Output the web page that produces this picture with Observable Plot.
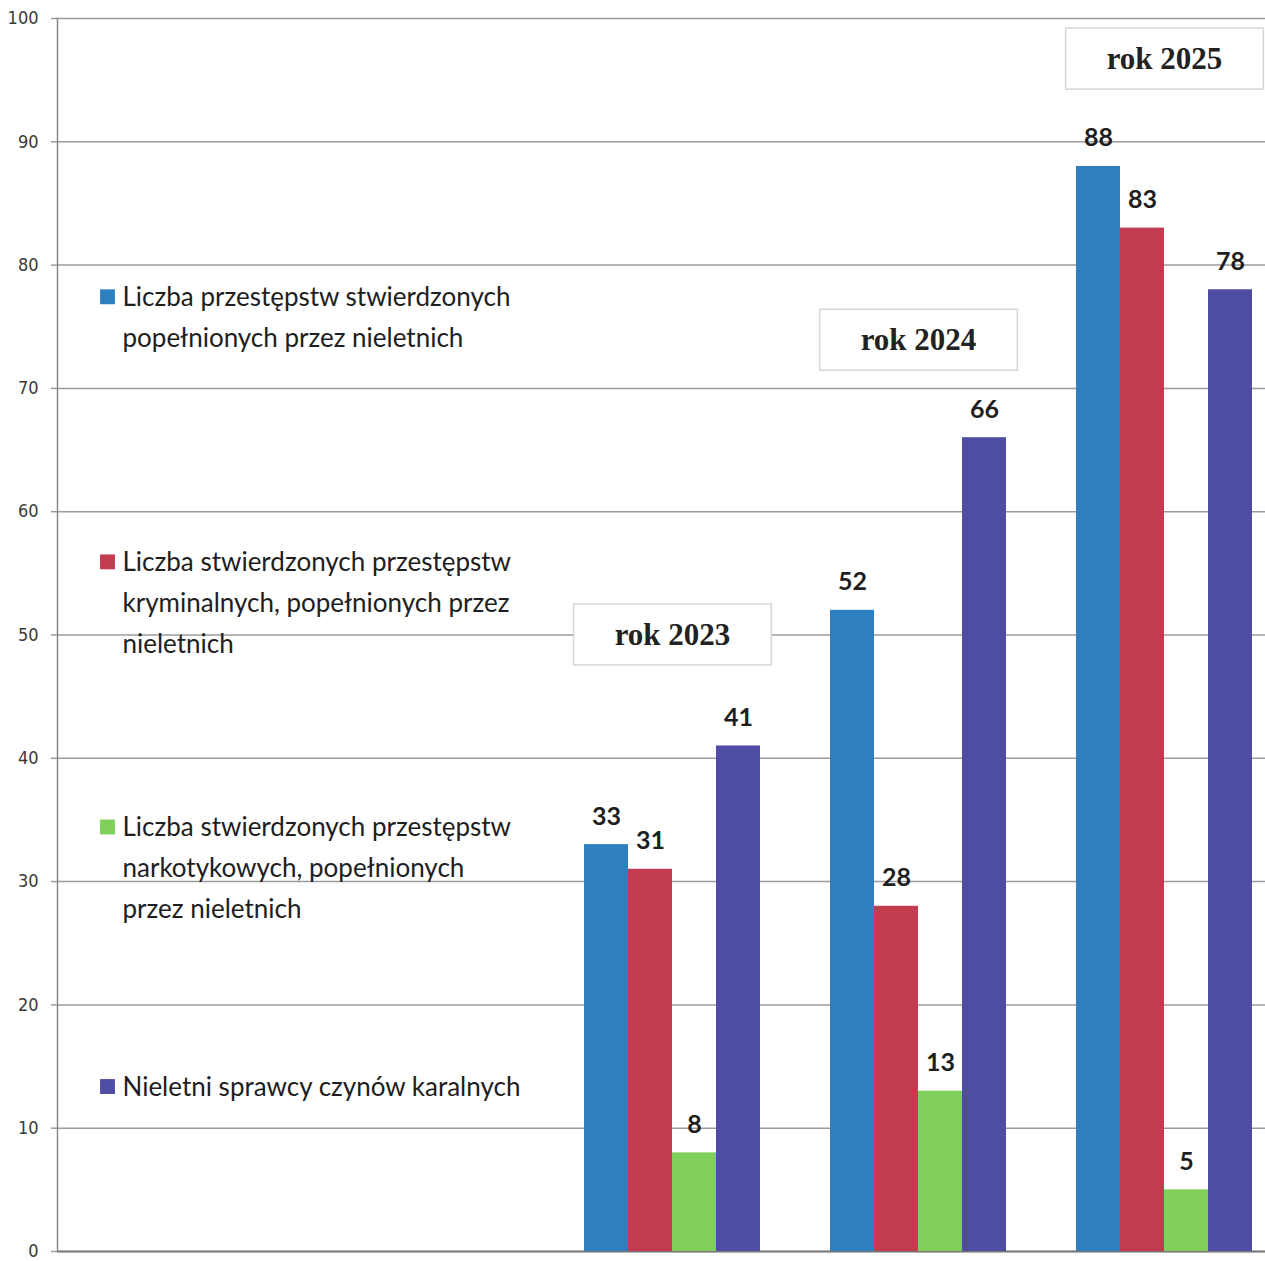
<!DOCTYPE html>
<html><head><meta charset="utf-8">
<script src="https://cdn.jsdelivr.net/npm/d3@7"></script>
<script src="https://cdn.jsdelivr.net/npm/@observablehq/plot@0.6"></script>
<style>
html,body{margin:0;padding:0;background:#fff;overflow:hidden;}
#wrap{width:1265px;height:1261px;overflow:hidden;position:relative;background:#fff;}
</style></head><body><div id="wrap"></div>
<script>
// ---- data ----
const years = ["2023", "2024", "2025"];
const emptySlots = ["pusty1", "pusty2"];
const seriesKeys = ["s1", "s2", "s3", "s4"];
const seriesColors = ["#2d7fc0", "#c23b4e", "#7fcf5a", "#4e4ca3"];
const values2023 = [33, 31, 8, 41];
const values2024 = [52, 28, 13, 66];
const values2025 = [88, 83, 5, 78];
const legendLabels = [
  "Liczba przestępstw stwierdzonych\npopełnionych przez nieletnich",
  "Liczba stwierdzonych przestępstw\nkryminalnych, popełnionych przez\nnieletnich",
  "Liczba stwierdzonych przestępstw\nnarkotykowych, popełnionych\nprzez nieletnich",
  "Nieletni sprawcy czynów karalnych"
];
const legendY = [76.7, 55.2, 33.7, 12.65];
const yearLabels = ["rok 2023", "rok 2024", "rok 2025"];
const yearLabelY = [50, 73.9, 96.7];
const yTicks = [0, 10, 20, 30, 40, 50, 60, 70, 80, 90, 100];

// ---- tables built from the arrays ----
const valuesByYear = [values2023, values2024, values2025];
const rows = years.flatMap((yr, i) => seriesKeys.map((k, j) => ({year: yr, key: k, value: valuesByYear[i][j]})));
const fxDomain = [...emptySlots, ...years];
const gridRows = fxDomain.flatMap(f => yTicks.map(t => ({fx: f, y: t})));
const baseRows = fxDomain.map(f => ({fx: f, y: 0}));
const legendRows = legendLabels.map((l, i) => ({fx: emptySlots[0], key: seriesKeys[i], label: l, y: legendY[i]}));
const yearRows = years.map((yr, i) => ({year: yr, label: yearLabels[i], y: yearLabelY[i]}));

const legendFont = 26, legendLine = 1.58;

const chart = Plot.plot({
  width: 1287,
  height: 1261,
  marginLeft: 57,
  marginRight: 0,
  marginTop: 18,
  marginBottom: 10,
  style: {fontFamily: "Lato, sans-serif", background: "white", maxWidth: "none", overflow: "visible"},
  fx: {domain: fxDomain, paddingInner: 0, paddingOuter: 0, axis: null, label: null},
  x: {domain: seriesKeys, paddingInner: 0, paddingOuter: 0.75, align: 0.5, axis: null},
  y: {domain: [0, 100], axis: null},
  color: {domain: seriesKeys, range: seriesColors},
  marks: [
    Plot.ruleY(gridRows, {fx: "fx", y: "y", stroke: "#9c9c9c", strokeWidth: 1.5}),
    Plot.axisY(yTicks, {tickSize: 6, tickPadding: 13, fontSize: 18, fontFamily: "DejaVu Sans Condensed", fill: "#3a3a3a", stroke: "#9c9c9c", strokeWidth: 1.5, label: null, facetAnchor: "left"}),
    Plot.ruleY(baseRows, {fx: "fx", y: "y", stroke: "#7a7a7a", strokeWidth: 2}),
    Plot.frame({anchor: "left", facetAnchor: "left", stroke: "#8a8a8a", strokeWidth: 1.5}),
    Plot.barY(rows, {fx: "year", x: "key", y: "value", fill: "key"}),
    Plot.text(rows, {fx: "year", x: "key", y: "value", text: d => String(d.value), lineAnchor: "bottom", dy: -20, fontSize: 25, fontWeight: "bold", fontFamily: "Lato, sans-serif", fill: "#1e1e1e"}),
    Plot.dot(legendRows, {fx: "fx", y: "y", frameAnchor: "left", dx: 50, dy: -9, symbol: "square", r: 8.4, fill: "key", stroke: null}),
    Plot.text(legendRows, {fx: "fx", y: "y", frameAnchor: "left", dx: 65, text: "label", textAnchor: "start", lineAnchor: "top", dy: -0.71 * legendLine * legendFont, lineHeight: legendLine, fontSize: legendFont, fontFamily: "Lato, sans-serif", fill: "#1e1e1e"}),
    Plot.text(yearRows, {fx: "year", y: "y", frameAnchor: "middle", text: "label", fontSize: 31, fontWeight: "bold", fontFamily: "Liberation Serif, serif", fill: "#222", className: "yearlabel"})
  ]
});
document.getElementById("wrap").appendChild(chart);

// boxes behind the year labels, sized from the rendered text
const svgNS = "http://www.w3.org/2000/svg";
chart.querySelectorAll(".yearlabel text").forEach(t => {
  const b = t.getBBox();
  const padX = 41, padY = 13;
  const r = document.createElementNS(svgNS, "rect");
  r.setAttribute("x", b.x - padX);
  r.setAttribute("y", b.y - padY);
  r.setAttribute("width", b.width + 2 * padX);
  r.setAttribute("height", b.height + 2 * padY);
  r.setAttribute("fill", "white");
  r.setAttribute("stroke", "#d6d6d6");
  r.setAttribute("stroke-width", "1.5");
  if (t.getAttribute("transform")) r.setAttribute("transform", t.getAttribute("transform"));
  t.parentNode.insertBefore(r, t);
});
</script>
</body></html>
